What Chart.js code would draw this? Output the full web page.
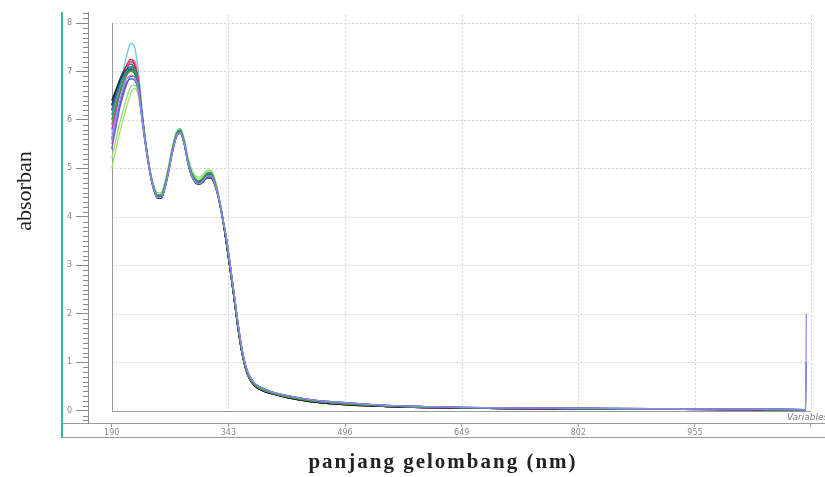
<!DOCTYPE html>
<html>
<head>
<meta charset="utf-8">
<title>absorban vs panjang gelombang</title>
<script src="https://cdn.jsdelivr.net/npm/chart.js@4/dist/chart.umd.min.js"></script>
<style>
    html, body { margin: 0; padding: 0; background: #fff; }
    #wrap { position: relative; width: 825px; height: 477px; }
</style>
</head>
<body>
<div id="wrap"><canvas id="chart-spektra"></canvas></div>
<script>
// panjang gelombang (nm) for the UV part
const uvNm = [190, 195, 200, 205, 210, 215, 220, 225, 230, 235, 240, 245, 250, 255, 260,
              265, 270, 275, 280, 285, 290, 295, 300, 305, 310, 315, 320, 325, 330, 335];

// absorbance of each sample over uvNm
const sCyan   = [5.7, 6.1, 6.55, 7.0, 7.35, 7.58, 7.5, 7.0, 6.2, 5.5, 4.98, 4.62, 4.44, 4.45, 4.68, 5.03, 5.45, 5.74, 5.8, 5.57, 5.17, 4.9, 4.77, 4.74, 4.8, 4.9, 4.92, 4.76, 4.45, 4.04];
const sRed    = [6.2, 6.45, 6.7, 6.95, 7.15, 7.25, 7.15, 6.8, 6.1, 5.48, 4.96, 4.6, 4.41, 4.41, 4.64, 5.0, 5.4, 5.7, 5.76, 5.54, 5.14, 4.87, 4.74, 4.71, 4.77, 4.85, 4.86, 4.7, 4.4, 4.0];
const sBlack  = [6.4, 6.6, 6.78, 6.92, 7.0, 7.05, 6.98, 6.68, 6.02, 5.42, 4.92, 4.57, 4.38, 4.38, 4.6, 4.96, 5.36, 5.66, 5.73, 5.5, 5.1, 4.83, 4.7, 4.67, 4.72, 4.8, 4.8, 4.66, 4.38, 3.98];
const sNavy   = [6.3, 6.55, 6.78, 6.95, 7.05, 7.1, 7.02, 6.7, 6.04, 5.44, 4.94, 4.58, 4.4, 4.4, 4.62, 4.98, 5.38, 5.68, 5.75, 5.52, 5.12, 4.85, 4.72, 4.69, 4.74, 4.83, 4.84, 4.69, 4.4, 4.0];
const sMagenta= [5.8, 6.15, 6.5, 6.8, 7.05, 7.2, 7.12, 6.76, 6.07, 5.46, 4.96, 4.6, 4.42, 4.42, 4.66, 5.02, 5.42, 5.71, 5.78, 5.56, 5.16, 4.89, 4.76, 4.73, 4.79, 4.88, 4.89, 4.73, 4.42, 4.02];
const sPurple = [5.4, 5.8, 6.2, 6.5, 6.75, 6.9, 6.9, 6.62, 6.0, 5.42, 4.93, 4.58, 4.4, 4.4, 4.63, 4.98, 5.38, 5.67, 5.74, 5.52, 5.12, 4.84, 4.71, 4.68, 4.74, 4.83, 4.84, 4.7, 4.41, 4.01];
const sGreen  = [6.0, 6.28, 6.55, 6.78, 6.95, 7.02, 6.98, 6.7, 6.06, 5.47, 4.97, 4.62, 4.45, 4.45, 4.68, 5.03, 5.43, 5.72, 5.79, 5.57, 5.17, 4.9, 4.77, 4.74, 4.8, 4.9, 4.91, 4.75, 4.44, 4.04];
const sLime   = [5.0, 5.35, 5.7, 6.0, 6.3, 6.55, 6.65, 6.5, 5.98, 5.45, 4.98, 4.65, 4.5, 4.5, 4.72, 5.06, 5.45, 5.73, 5.8, 5.59, 5.2, 4.93, 4.8, 4.78, 4.84, 4.93, 4.95, 4.78, 4.46, 4.05];
const sTeal   = [6.1, 6.38, 6.65, 6.88, 7.02, 7.1, 7.04, 6.72, 6.07, 5.47, 4.97, 4.62, 4.44, 4.44, 4.68, 5.04, 5.45, 5.75, 5.82, 5.58, 5.17, 4.9, 4.77, 4.74, 4.8, 4.89, 4.9, 4.74, 4.43, 4.03];
const sBlue   = [5.6, 5.95, 6.3, 6.58, 6.78, 6.85, 6.82, 6.58, 5.98, 5.4, 4.92, 4.57, 4.39, 4.39, 4.61, 4.96, 5.36, 5.66, 5.73, 5.51, 5.11, 4.84, 4.71, 4.68, 4.73, 4.82, 4.83, 4.68, 4.39, 3.99];
const sDkGreen= [6.3, 6.58, 6.82, 7.0, 7.12, 7.15, 7.06, 6.72, 6.06, 5.46, 4.96, 4.6, 4.42, 4.42, 4.65, 5.0, 5.41, 5.7, 5.77, 5.55, 5.15, 4.88, 4.75, 4.72, 4.78, 4.87, 4.88, 4.72, 4.42, 4.02];
const sPink   = [5.5, 5.9, 6.3, 6.65, 6.98, 7.25, 7.22, 6.85, 6.12, 5.5, 4.99, 4.63, 4.45, 4.45, 4.68, 5.03, 5.43, 5.72, 5.79, 5.57, 5.17, 4.9, 4.77, 4.74, 4.8, 4.89, 4.9, 4.74, 4.43, 4.03];
const sOlive  = [5.9, 6.2, 6.5, 6.74, 6.92, 7.0, 6.95, 6.68, 6.04, 5.45, 4.95, 4.6, 4.43, 4.43, 4.66, 5.01, 5.41, 5.7, 5.77, 5.55, 5.15, 4.88, 4.75, 4.72, 4.78, 4.87, 4.88, 4.72, 4.42, 4.02];
const sLtGreen= [5.2, 5.55, 5.9, 6.2, 6.48, 6.68, 6.72, 6.55, 6.0, 5.46, 4.99, 4.66, 4.5, 4.5, 4.74, 5.08, 5.47, 5.75, 5.82, 5.62, 5.24, 4.97, 4.84, 4.82, 4.88, 4.96, 4.97, 4.8, 4.48, 4.06];
const sLavender=[5.6, 5.98, 6.35, 6.65, 6.85, 6.92, 6.88, 6.62, 6.0, 5.42, 4.93, 4.58, 4.4, 4.4, 4.62, 4.97, 5.37, 5.67, 5.74, 5.52, 5.12, 4.85, 4.72, 4.69, 4.75, 4.84, 4.85, 4.7, 4.41, 4.01];
const sSteel  = [6.2, 6.48, 6.72, 6.9, 7.02, 7.06, 7.0, 6.7, 6.05, 5.45, 4.95, 4.6, 4.42, 4.42, 4.65, 5.0, 5.4, 5.7, 5.77, 5.55, 5.15, 4.88, 4.75, 4.72, 4.78, 4.87, 4.88, 4.72, 4.42, 4.02];

// the curves nearly coincide after 340 nm
const tailNm = [340, 345, 350, 355, 360, 365, 370, 375, 380, 390, 400, 420, 450, 500, 550, 600, 650, 700, 800, 900, 1000, 1050, 1100];
const tailA  = [3.55, 3.0, 2.42, 1.82, 1.3, 0.93, 0.7, 0.58, 0.5, 0.42, 0.37, 0.29, 0.21, 0.14, 0.1, 0.075, 0.065, 0.055, 0.045, 0.035, 0.03, 0.025, 0.02];
const tailB  = [3.6, 3.06, 2.48, 1.88, 1.35, 0.97, 0.74, 0.61, 0.53, 0.45, 0.39, 0.31, 0.23, 0.16, 0.11, 0.085, 0.07, 0.06, 0.05, 0.04, 0.032, 0.03, 0.022];
const tailC  = [3.5, 2.95, 2.37, 1.77, 1.26, 0.9, 0.68, 0.56, 0.48, 0.4, 0.35, 0.27, 0.19, 0.12, 0.085, 0.065, 0.055, 0.045, 0.035, 0.028, 0.022, 0.018, 0.015];

// two samples jump at the last wavelength
const spikeNm = [1101];
const spikeHi = [2.0];
const spikeLo = [1.0];

// tick labels
const xTicks = [190, 343, 496, 649, 802, 955, 1107];
const yTicks = [0, 1, 2, 3, 4, 5, 6, 7, 8];

const samples = [
    { uv: sLavender, tail: tailB, color: "#8f8ff0", end: spikeHi },
    { uv: sPurple,   tail: tailB, color: "#7a4fc0" },
    { uv: sGreen,    tail: tailA, color: "#2ca02c" },
    { uv: sLtGreen,  tail: tailA, color: "#8fd98a" },
    { uv: sTeal,     tail: tailA, color: "#17a2a0" },
    { uv: sSteel,    tail: tailB, color: "#3b5fb5", end: spikeLo },
    { uv: sBlue,     tail: tailB, color: "#2f5fd0" },
    { uv: sBlack,    tail: tailC, color: "#222222" },
    { uv: sNavy,     tail: tailC, color: "#1f2a8a" },
    { uv: sRed,      tail: tailC, color: "#d62728" },
    { uv: sMagenta,  tail: tailC, color: "#c03aa8" },
    { uv: sDkGreen,  tail: tailA, color: "#1e6b3a" },
    { uv: sPink,     tail: tailC, color: "#e377c2" },
    { uv: sOlive,    tail: tailC, color: "#8c8c3a" },
    { uv: sLime,     tail: tailA, color: "#a6e05a" },
    { uv: sCyan,     tail: tailC, color: "#66c8e6" }
];

function toPoints(s) {
    const pts = uvNm.map((nm, i) => ({ x: nm, y: s.uv[i] }));
    tailNm.forEach((nm, i) => pts.push({ x: nm, y: s.tail[i] }));
    if (s.end) {
        spikeNm.forEach((nm, i) => pts.push({ x: nm, y: s.end[i] }));
    }
    return pts;
}

const datasets = samples.map((s) => ({
    data: toPoints(s),
    borderColor: s.color,
    borderWidth: 1.3,
    pointRadius: 0,
    cubicInterpolationMode: "monotone",
    fill: false
}));

// frame, dotted grid, minor ticks and titles around the plot
const frame = {
    id: "frame",
    beforeDatasetsDraw(chart) {
        const { ctx, scales: { x, y } } = chart;
        const left = x.getPixelForValue(190);
        const right = x.getPixelForValue(1107);
        const bottom = y.getPixelForValue(0);
        const top = y.getPixelForValue(8);
        ctx.save();
        ctx.lineWidth = 1;
        ctx.strokeStyle = "#d4d4d4";
        ctx.setLineDash([2, 2]);
        yTicks.slice(1).forEach((v) => {
            const py = Math.round(y.getPixelForValue(v)) + 0.5;
            ctx.beginPath();
            ctx.moveTo(left, py);
            ctx.lineTo(right, py);
            ctx.stroke();
        });
        xTicks.slice(1).forEach((v) => {
            const px = Math.round(x.getPixelForValue(v)) + 0.5;
            ctx.beginPath();
            ctx.moveTo(px, top - 8);
            ctx.lineTo(px, bottom);
            ctx.stroke();
        });
        ctx.setLineDash([]);
        ctx.strokeStyle = "#9a9a9a";
        ctx.beginPath();
        ctx.moveTo(Math.round(left) + 0.5, top);
        ctx.lineTo(Math.round(left) + 0.5, Math.round(bottom) + 0.5);
        ctx.lineTo(right, Math.round(bottom) + 0.5);
        ctx.stroke();
        ctx.restore();
    },
    afterDraw(chart) {
        const { ctx, chartArea, scales: { x, y } } = chart;
        ctx.save();
        // minor ticks on the outer y axis
        ctx.strokeStyle = "#8a8a8a";
        ctx.lineWidth = 1;
        for (let k = -2; k <= 82; k++) {
            if (k % 10 === 0) continue;
            const py = Math.round(y.getPixelForValue(k / 10)) + 0.5;
            ctx.beginPath();
            ctx.moveTo(chartArea.left - 5, py);
            ctx.lineTo(chartArea.left, py);
            ctx.stroke();
        }
        // outer frame lines
        ctx.strokeStyle = "#9a9a9a";
        ctx.beginPath();
        ctx.moveTo(62, chartArea.bottom + 0.5);
        ctx.lineTo(chartArea.left, chartArea.bottom + 0.5);
        ctx.moveTo(62, 437.5);
        ctx.lineTo(825, 437.5);
        ctx.stroke();
        ctx.strokeStyle = "#3fb3ad";
        ctx.lineWidth = 2;
        ctx.beginPath();
        ctx.moveTo(62, 12);
        ctx.lineTo(62, 438);
        ctx.stroke();

        ctx.fillStyle = "#7a7a7a";
        ctx.font = "italic 9px 'DejaVu Sans'";
        ctx.textAlign = "left";
        ctx.textBaseline = "alphabetic";
        ctx.fillText("Variables", 787, 420);

        ctx.fillStyle = "#222";
        ctx.font = "bold 21px 'Liberation Serif'";
        ctx.letterSpacing = "2px";
        ctx.textAlign = "center";
        ctx.fillText("panjang gelombang (nm)", 443, 468);
        ctx.letterSpacing = "0px";

        ctx.font = "22px 'Liberation Serif'";
        ctx.translate(31, 191);
        ctx.rotate(-Math.PI / 2);
        ctx.fillText("absorban", 0, 0);
        ctx.restore();
    }
};

const ctx = document.getElementById("chart-spektra").getContext("2d");
new Chart(ctx, {
    type: "line",
    data: { datasets: datasets },
    plugins: [frame],
    options: {
        responsive: true,
        maintainAspectRatio: false,
        animation: false,
        layout: { padding: { left: 0, right: 0, top: 12, bottom: 40 } },
        plugins: {
            legend: { display: false },
            tooltip: { enabled: false }
        },
        scales: {
            x: {
                type: "linear",
                min: 158.9,
                max: 1125.5,
                afterBuildTicks: (s) => { s.ticks = xTicks.map((v) => ({ value: v })); },
                afterFit: (s) => { s.height = 14; },
                grid: { drawOnChartArea: false, tickLength: 4, tickColor: "#9a9a9a" },
                border: { color: "#9a9a9a" },
                ticks: {
                    padding: 1,
                    maxRotation: 0,
                    autoSkip: false,
                    color: "#8a8a8a",
                    font: { size: 8, family: "'DejaVu Sans'" },
                    callback: (v) => (v === 1107 ? "" : String(v))
                }
            },
            y: {
                min: -0.254,
                max: 8.227,
                afterBuildTicks: (s) => { s.ticks = yTicks.map((v) => ({ value: v })); },
                afterFit: (s) => { s.width = 88; },
                grid: { drawOnChartArea: false, tickLength: 12, tickColor: "#8a8a8a" },
                border: { color: "#8a8a8a" },
                ticks: {
                    padding: 4,
                    color: "#8a8a8a",
                    font: { size: 8, family: "'DejaVu Sans'" }
                }
            }
        }
    }
});
</script>
</body>
</html>
